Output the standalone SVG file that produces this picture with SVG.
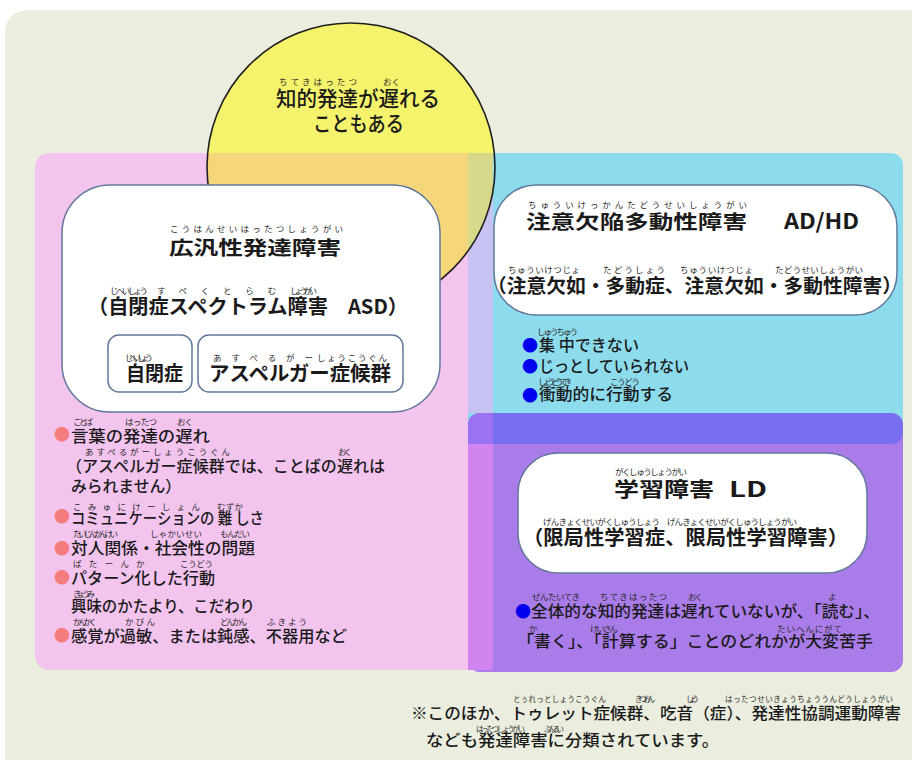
<svg xmlns="http://www.w3.org/2000/svg" width="912" height="760" viewBox="0 0 912 760">
<defs>
<style>
text{font-family:"Noto Sans CJK JP","Noto Sans",sans-serif;fill:#1a1a1a;font-weight:500}
.b{font-weight:700}
.r{font-size:8.5px;fill:#2a2a2a;font-weight:400}
.rs{font-size:7.5px;fill:#2a2a2a;font-weight:400}
.m{font-size:16px}
.box{fill:#fff;stroke:#62789a;stroke-width:1.5}
.pb{font-size:16px;fill:#f47c7c}
.bb{font-size:16px;fill:#0000ee}
</style>
<clipPath id="cc"><circle cx="351" cy="167" r="144"/></clipPath>
</defs>
<rect width="912" height="760" fill="#ffffff"/>
<rect x="5" y="10" width="940" height="790" rx="22" fill="#ebeedf"/>
<g id="regions">
<circle cx="351" cy="167" r="144" fill="#f5f36c"/>
<rect x="35" y="153" width="458" height="517" rx="14" fill="#f3c4ee"/>
<rect x="468" y="153" width="435" height="291" rx="12" fill="#8ddcee"/>
<rect x="468" y="413" width="435" height="259" rx="12" fill="#a97ce9"/>
<path d="M480,153 H493 V413 H468 V165 A12,12 0 0 1 480,153 Z" fill="#c6c2f2"/>
<rect x="468" y="413" width="435" height="31" rx="12" fill="#7a6ef0"/>
<path d="M480,413 H493 V444 H468 V425 A12,12 0 0 1 480,413 Z" fill="#9b72f1"/>
<rect x="468" y="444" width="25" height="226" fill="#cf84ef"/>
<g clip-path="url(#cc)">
<rect x="35" y="153" width="433" height="200" fill="#f5d67a"/>
<rect x="468" y="153" width="25" height="200" fill="#d6d98a"/>
</g>
<circle cx="351" cy="167" r="144" fill="none" stroke="#1e1e1e" stroke-width="1.6"/>
</g>
<g id="intellectual">
<text><tspan class="r" x="279" y="85" textLength="78">ちてきはったつ</tspan><tspan class="r" x="383" y="85" textLength="17">おく</tspan><tspan x="276" y="106" font-size="21" textLength="164" lengthAdjust="spacingAndGlyphs">知的発達が遅れる</tspan></text>
<text x="313" y="131" font-size="21" textLength="91" lengthAdjust="spacingAndGlyphs">こともある</text>
</g>
<g id="asd">
<rect class="box" x="62" y="185" width="378" height="227" rx="48"/>
<text class="b"><tspan class="r" x="170" y="232" textLength="173">こうはんせいはったつしょうがい</tspan><tspan x="169" y="255" font-size="19" textLength="172" lengthAdjust="spacingAndGlyphs">広汎性発達障害</tspan></text>
<text class="b"><tspan class="r" x="110" y="294" textLength="38">じへいしょう</tspan><tspan class="r" x="157" y="294" textLength="119">すぺくとらむ</tspan><tspan class="r" x="290" y="294" textLength="27">しょうがい</tspan><tspan x="88" y="314" font-size="20" textLength="320" lengthAdjust="spacingAndGlyphs">（自閉症スペクトラム障害　ASD）</tspan></text>
<rect class="box" x="108" y="335" width="84" height="57" rx="11"/>
<text class="b"><tspan class="r" x="125" y="361" textLength="28">じへいしょう</tspan><tspan x="126" y="381" font-size="20" textLength="57" lengthAdjust="spacingAndGlyphs">自閉症</tspan></text>
<rect class="box" x="198" y="335" width="205" height="57" rx="11"/>
<text class="b"><tspan class="r" x="213" y="361" textLength="100">あすぺるがー</tspan><tspan class="r" x="317" y="361" textLength="70">しょうこうぐん</tspan><tspan x="209" y="381" font-size="20" textLength="182" lengthAdjust="spacingAndGlyphs">アスペルガー症候群</tspan></text>
</g>
<g id="asd-traits">
<text><tspan class="r" x="73" y="425" textLength="20">ことば</tspan><tspan class="r" x="125" y="425" textLength="32">はったつ</tspan><tspan class="r" x="177" y="425" textLength="16">おく</tspan><tspan class="pb" x="54" y="440">●</tspan><tspan class="m" x="71" y="442" textLength="139" lengthAdjust="spacingAndGlyphs">言葉の発達の遅れ</tspan></text>
<text><tspan class="r" x="85" y="455" textLength="145">あすぺるがーしょうこうぐん</tspan><tspan class="r" x="338" y="455" textLength="14">おく</tspan><tspan class="m" x="66" y="472" textLength="319" lengthAdjust="spacingAndGlyphs">（アスペルガー症候群では、ことばの遅れは</tspan></text>
<text class="m" x="71" y="492" textLength="110" lengthAdjust="spacingAndGlyphs">みられません）</text>
<text><tspan class="r" x="73" y="510" textLength="127">こみゅにけーしょん</tspan><tspan class="r" x="217" y="510" textLength="26">むずか</tspan><tspan class="pb" x="54" y="522">●</tspan><tspan class="m" x="71" y="524" textLength="193" lengthAdjust="spacingAndGlyphs">コミュニケーションの 難 しさ</tspan></text>
<text><tspan class="r" x="73" y="537" textLength="45">たいじんかんけい</tspan><tspan class="r" x="150" y="537" textLength="52">しゃかいせい</tspan><tspan class="r" x="220" y="537" textLength="30">もんだい</tspan><tspan class="pb" x="54" y="554">●</tspan><tspan class="m" x="71" y="554" textLength="184" lengthAdjust="spacingAndGlyphs">対人関係・社会性の問題</tspan></text>
<text><tspan class="r" x="73" y="567" textLength="56">ぱたーん</tspan><tspan class="r" x="136" y="567">か</tspan><tspan class="r" x="180" y="567" textLength="33">こうどう</tspan><tspan class="pb" x="54" y="583">●</tspan><tspan class="m" x="71" y="584" textLength="144" lengthAdjust="spacingAndGlyphs">パターン化した行動</tspan></text>
<text><tspan class="r" x="73" y="597" textLength="22">きょうみ</tspan><tspan class="m" x="71" y="612" textLength="184" lengthAdjust="spacingAndGlyphs">興味のかたより、こだわり</tspan></text>
<text><tspan class="r" x="73" y="625" textLength="24">かんかく</tspan><tspan class="r" x="125" y="625" textLength="30">かびん</tspan><tspan class="r" x="220" y="625" textLength="27">どんかん</tspan><tspan class="r" x="267" y="625" textLength="40">ふきよう</tspan><tspan class="pb" x="54" y="641">●</tspan><tspan class="m" x="71" y="642" textLength="276" lengthAdjust="spacingAndGlyphs">感覚が過敏、または鈍感、不器用など</tspan></text>
</g>
<g id="adhd">
<rect class="box" x="494" y="185" width="403" height="130" rx="42" stroke="#6b7080"/>
<text class="b"><tspan class="r" x="528" y="208" textLength="219">ちゅういけっかんたどうせいしょうがい</tspan><tspan x="526" y="229" font-size="19" textLength="221" lengthAdjust="spacingAndGlyphs">注意欠陥多動性障害</tspan><tspan x="784" y="229" font-size="21" textLength="75" lengthAdjust="spacingAndGlyphs">AD/HD</tspan></text>
<text class="b"><tspan class="r" x="508" y="273" textLength="72">ちゅういけつじょ</tspan><tspan class="r" x="603" y="273" textLength="62">たどうしょう</tspan><tspan class="r" x="680" y="273" textLength="73">ちゅういけつじょ</tspan><tspan class="r" x="775" y="273" textLength="88">たどうせいしょうがい</tspan><tspan x="487" y="293" font-size="19" textLength="415" lengthAdjust="spacingAndGlyphs">（注意欠如・多動症、注意欠如・多動性障害）</tspan></text>
</g>
<g id="adhd-traits">
<text><tspan class="r" x="537" y="335" textLength="41">しゅうちゅう</tspan><tspan class="bb" x="522" y="351">●</tspan><tspan class="m" x="539" y="351" textLength="100" lengthAdjust="spacingAndGlyphs">集 中できない</tspan></text>
<text><tspan class="bb" x="522" y="372">●</tspan><tspan class="m" x="539" y="372" textLength="150" lengthAdjust="spacingAndGlyphs">じっとしていられない</tspan></text>
<text><tspan class="r" x="538" y="385" textLength="34">しょうどうてき</tspan><tspan class="r" x="610" y="385" textLength="30">こうどう</tspan><tspan class="bb" x="522" y="401">●</tspan><tspan class="m" x="539" y="400" textLength="134" lengthAdjust="spacingAndGlyphs">衝動的に行動する</tspan></text>
</g>
<g id="ld">
<rect class="box" x="518" y="453" width="349" height="120" rx="40" stroke="#707070"/>
<text class="b"><tspan class="r" x="615" y="475" textLength="72">がくしゅうしょうがい</tspan><tspan x="614" y="497" font-size="20" textLength="100" lengthAdjust="spacingAndGlyphs">学習障害</tspan><tspan x="729" y="497" font-size="21" textLength="38" lengthAdjust="spacingAndGlyphs">LD</tspan></text>
<text class="b"><tspan class="r" x="543" y="525" textLength="117">げんきょくせいがくしゅうしょう</tspan><tspan class="r" x="667" y="525" textLength="130">げんきょくせいがくしゅうしょうがい</tspan><tspan x="523" y="545" font-size="20" textLength="325" lengthAdjust="spacingAndGlyphs">（限局性学習症、限局性学習障害）</tspan></text>
</g>
<g id="ld-traits">
<text><tspan class="r" x="532" y="600" textLength="48">ぜんたいてき</tspan><tspan class="r" x="600" y="600" textLength="67">ちてきはったつ</tspan><tspan class="r" x="688" y="600" textLength="15">おく</tspan><tspan class="r" x="828" y="600">よ</tspan><tspan class="bb" x="515" y="617">●</tspan><tspan class="m" x="531" y="617" textLength="349" lengthAdjust="spacingAndGlyphs">全体的な知的発達は遅れていないが、「読む」、</tspan></text>
<text><tspan class="r" x="529" y="632">か</tspan><tspan class="r" x="590" y="632" textLength="28">けいさん</tspan><tspan class="r" x="777" y="632" textLength="65">たいへんにがて</tspan><tspan class="m" x="517" y="647" textLength="356" lengthAdjust="spacingAndGlyphs">「書く」、「計算する」ことのどれかが大変苦手</tspan></text>
</g>
<g id="note">
<text><tspan class="rs" x="513" y="702" textLength="93">とぅれっとしょうこうぐん</tspan><tspan class="rs" x="635" y="702" textLength="20">きつおん</tspan><tspan class="rs" x="686" y="702" textLength="13">しょう</tspan><tspan class="rs" x="725" y="702" textLength="168">はったつせいきょうちょううんどうしょうがい</tspan><tspan class="m" x="411" y="719" textLength="490" lengthAdjust="spacingAndGlyphs">※このほか、トゥレット症候群、吃音（症）、発達性協調運動障害</tspan></text>
<text><tspan class="rs" x="476" y="732" textLength="49">はったつしょうがい</tspan><tspan class="rs" x="544" y="732" textLength="20">ぶんるい</tspan><tspan class="m" x="426" y="746" textLength="293" lengthAdjust="spacingAndGlyphs">なども発達障害に分類されています。</tspan></text>
</g>
</svg>
